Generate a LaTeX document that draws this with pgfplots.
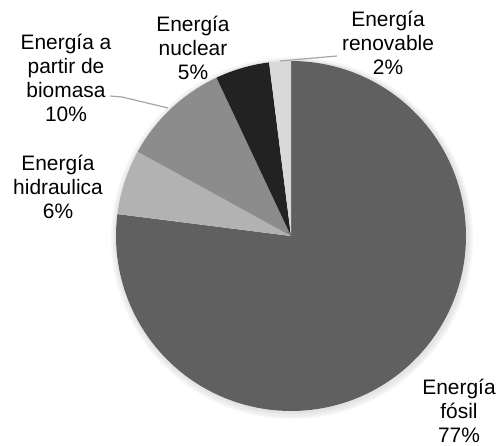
\documentclass[border=0pt]{standalone}
\usepackage{pgfplots}
\pgfplotsset{compat=1.18}
\usepackage{pgfplotstable}
\usepackage{fontspec}
\setmainfont{Liberation Sans}

\definecolor{cfosil}{HTML}{606060}
\definecolor{chidro}{HTML}{B2B2B2}
\definecolor{cbio}{HTML}{8C8C8C}
\definecolor{cnuc}{HTML}{222222}
\definecolor{cren}{HTML}{D9D9D9}
\definecolor{cleader}{HTML}{A6A6A6}

% share of each source, in %, clockwise from 12 o'clock
\pgfplotstableread[col sep=comma]{
name,value
fosil,77
hidraulica,6
biomasa,10
nuclear,5
renovable,2
}\piedata

% start and end angle of every slice
\def\cum{0}
\pgfplotsforeachungrouped \i in {0,...,4}{%
  \pgfplotstablegetelem{\i}{value}\of\piedata
  \pgfmathsetmacro\pstart{90-3.6*\cum}%
  \pgfmathsetmacro\cum{\cum+\pgfplotsretval}%
  \pgfmathsetmacro\pstop{90-3.6*\cum}%
  \expandafter\xdef\csname pieS\i\endcsname{\pstart}%
  \expandafter\xdef\csname pieE\i\endcsname{\pstop}%
}

\newcommand\pieslice[2]{%
  \fill[#2] (axis cs:291,210) -- ++(\csname pieS#1\endcsname:175bp)
    arc[start angle=\csname pieS#1\endcsname,
        end angle=\csname pieE#1\endcsname, radius=175bp] -- cycle;}

\begin{document}
\begin{tikzpicture}
\begin{axis}[
    hide axis, scale only axis,
    width=499bp, height=446bp,
    xmin=0, xmax=499, ymin=0, ymax=446,
    clip=false]

% soft shadow
\fill[black, opacity=0.035] (axis cs:292,208) circle[radius=181bp];
\fill[black, opacity=0.035] (axis cs:292,208) circle[radius=179bp];
\fill[black, opacity=0.04] (axis cs:292,209) circle[radius=177bp];
\fill[white] (axis cs:291,210) circle[radius=175bp];

\pieslice{0}{cfosil}
\pieslice{1}{chidro}
\pieslice{2}{cbio}
\pieslice{3}{cnuc}
\pieslice{4}{cren}

% leader lines
\draw[cleader, line width=1.2bp] (axis cs:110,350) -- (axis cs:122,349) -- (axis cs:168,338);
\draw[cleader, line width=1.2bp] (axis cs:280,385) -- (axis cs:337,390);

\tikzset{lbl/.style={align=center, inner sep=0pt,
    font=\fontsize{21}{24}\selectfont}}
\node[lbl] at (axis cs:66,368) {Energía a\\partir de\\biomasa\\10\%};
\node[lbl] at (axis cs:58,259) {Energía\\hidraulica\\6\%};
\node[lbl] at (axis cs:193,398) {Energía\\nuclear\\5\%};
\node[lbl] at (axis cs:388,403) {Energía\\renovable\\2\%};
\node[lbl] at (axis cs:459,35) {Energía\\fósil\\77\%};

\path (axis cs:0,0) rectangle (axis cs:499,446);
\end{axis}
\end{tikzpicture}
\end{document}
